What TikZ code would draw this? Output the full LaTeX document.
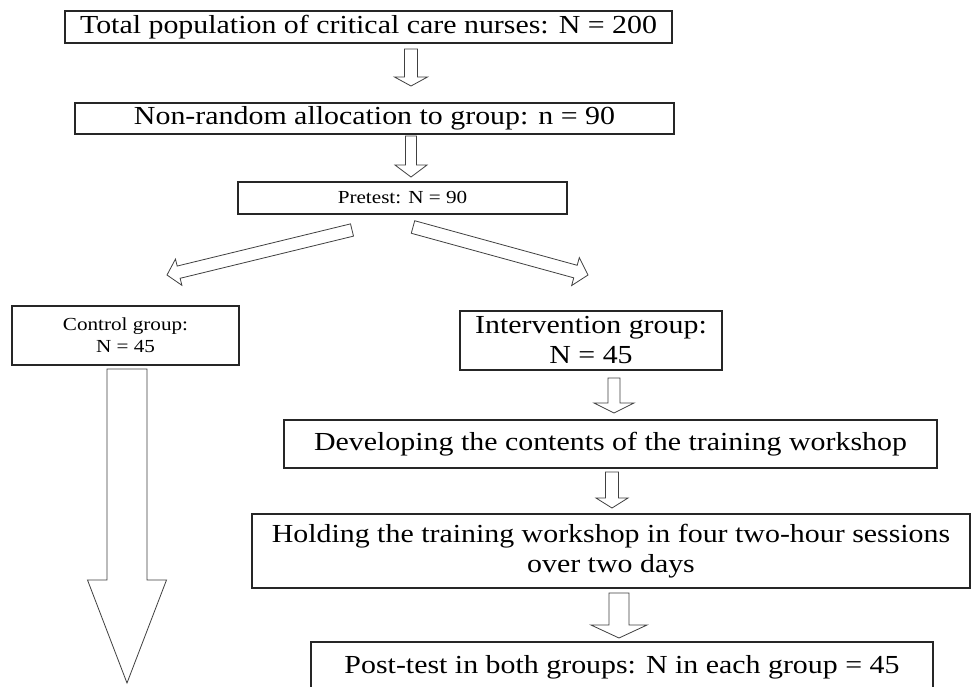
\documentclass[tikz,border=0pt]{standalone}
\usepackage{fontspec}
\setmainfont{Liberation Serif}[FakeStretch=1.15]
\usetikzlibrary{calc}
\newcommand\bigtxt{\fontsize{26}{30}\selectfont}
\newcommand\smalltxt{\fontsize{18.4}{22}\selectfont}
% block arrow: tail, tip, shaft half width, head half width, head length
\newcommand\blkarrow[5]{%
  \path coordinate (tmpB) at ($(#2)!#5!(#1)$);
  \draw[blockarrow] ($(#1)!#3!90:(#2)$) -- ($(tmpB)!#3!90:(#2)$) -- ($(tmpB)!#4!90:(#2)$) -- (#2)
     -- ($(tmpB)!#4!-90:(#2)$) -- ($(tmpB)!#3!-90:(#2)$) -- ($(#1)!#3!-90:(#2)$) -- cycle;
}
\begin{document}
\begin{tikzpicture}[x=1pt,y=-1pt,
  box/.style={draw=black!85, line width=1.1pt, inner sep=0pt, align=center, font=\bigtxt},
  smallbox/.style={box, font=\smalltxt},
  blockarrow/.style={draw=black!75, line width=0.8pt, fill=white, line join=miter}]
\useasboundingbox (0,0) rectangle (971,686);
\clip (0,0) rectangle (971,686);
\fill[white] (0,0) rectangle (971,686);

\node[box, minimum width=607, minimum height=32] (n1) at (368.5,27) {Total population of critical care nurses: N = 200};
\node[box, minimum width=599, minimum height=31] (n2) at (374.5,118.5) {Non-random allocation to group: n = 90};
\node[smallbox, minimum width=329, minimum height=32] (n3) at (402.5,198) {Pretest: N = 90};
\node[smallbox, minimum width=227, minimum height=59] (nc) at (125.5,335.5) {Control group:\\N = 45};
\node[box, minimum width=262, minimum height=59] (ni) at (591,340.5) {Intervention group:\\N = 45};
\node[box, minimum width=653, minimum height=48] (nd) at (610.5,444) {Developing the contents of the training workshop};
\node[box, minimum width=718, minimum height=74] (nh) at (611,551) {Holding the training workshop in four two-hour sessions\\over two days};
\node[box, minimum width=622, minimum height=50] (np) at (622,667) {Post-test in both groups: N in each group = 45};

% arrow end points
\coordinate (a1t) at (411,49);  \coordinate (a1h) at (411,86);
\coordinate (a2t) at (411,136); \coordinate (a2h) at (411,177);
\coordinate (alt) at (352,230); \coordinate (alh) at (167,275);
\coordinate (art) at (413,227); \coordinate (arh) at (588,275);
\coordinate (act) at (127,369); \coordinate (ach) at (127,683);
\coordinate (a3t) at (614,378); \coordinate (a3h) at (614,413);
\coordinate (a4t) at (612,472); \coordinate (a4h) at (612,508);
\coordinate (a5t) at (619,593); \coordinate (a5h) at (619,638);

\blkarrow{a1t}{a1h}{6.5pt}{16.5pt}{9pt}
\blkarrow{a2t}{a2h}{5.5pt}{16pt}{12pt}
\blkarrow{alt}{alh}{6.3pt}{13.5pt}{12pt}
\blkarrow{art}{arh}{6.5pt}{14.5pt}{13pt}
\blkarrow{act}{ach}{20pt}{39.5pt}{103pt}
\blkarrow{a3t}{a3h}{6pt}{20pt}{10pt}
\blkarrow{a4t}{a4h}{6.5pt}{16pt}{10pt}
\blkarrow{a5t}{a5h}{10pt}{28pt}{13pt}
\end{tikzpicture}
\end{document}
